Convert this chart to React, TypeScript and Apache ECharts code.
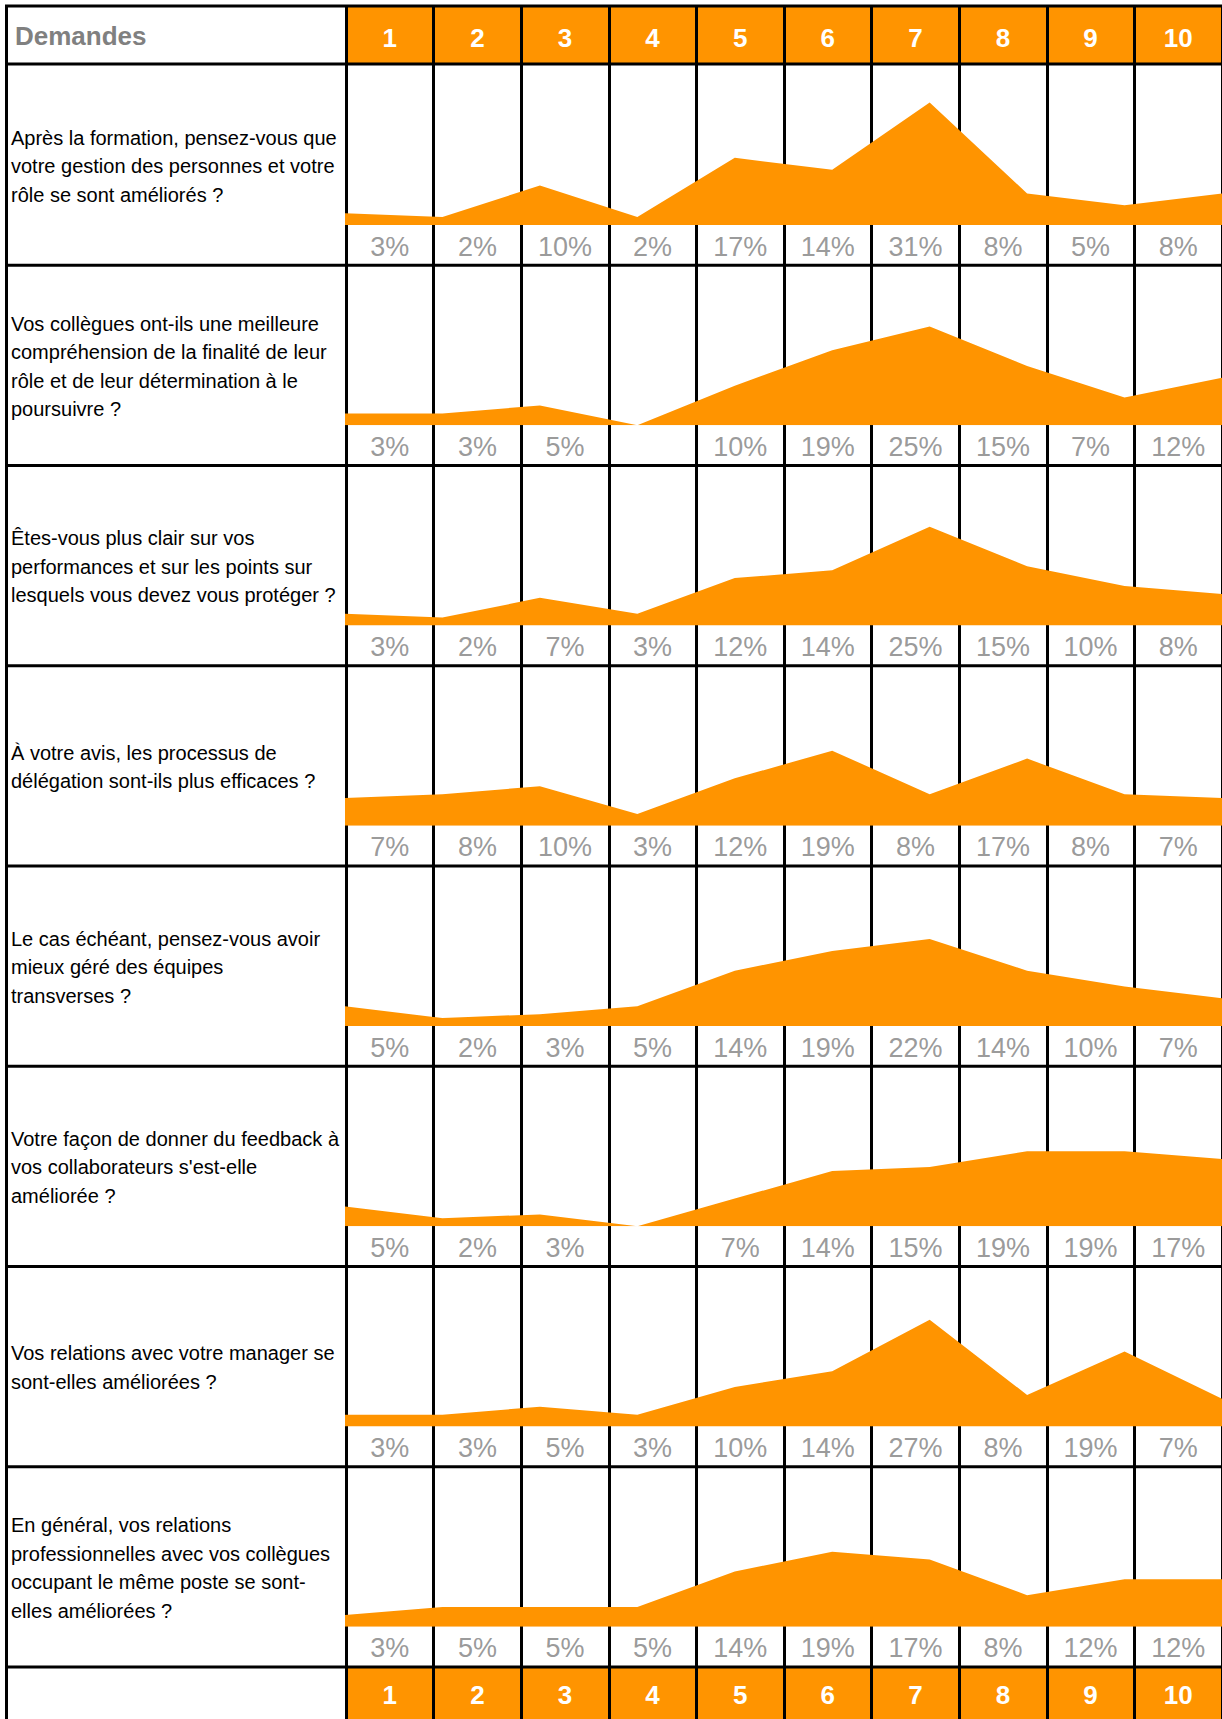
import React, { useEffect, useRef } from "react";
import * as echarts from "echarts";

const categories = ["1", "2", "3", "4", "5", "6", "7", "8", "9", "10"];

const headerTitle = "Demandes";

const questions = [
  "Après la formation, pensez-vous que\nvotre gestion des personnes et votre\nrôle se sont améliorés ?",
  "Vos collègues ont-ils une meilleure\ncompréhension de la finalité de leur\nrôle et de leur détermination à le\npoursuivre ?",
  "Êtes-vous plus clair sur vos\nperformances et sur les points sur\nlesquels vous devez vous protéger ?",
  "À votre avis, les processus de\ndélégation sont-ils plus efficaces ?",
  "Le cas échéant, pensez-vous avoir\nmieux géré des équipes\ntransverses ?",
  "Votre façon de donner du feedback à\nvos collaborateurs s'est-elle\naméliorée ?",
  "Vos relations avec votre manager se\nsont-elles améliorées ?",
  "En général, vos relations\nprofessionnelles avec vos collègues\noccupant le même poste se sont-\nelles améliorées ?",
];

const q1 = [3, 2, 10, 2, 17, 14, 31, 8, 5, 8];
const q2 = [3, 3, 5, 0, 10, 19, 25, 15, 7, 12];
const q3 = [3, 2, 7, 3, 12, 14, 25, 15, 10, 8];
const q4 = [7, 8, 10, 3, 12, 19, 8, 17, 8, 7];
const q5 = [5, 2, 3, 5, 14, 19, 22, 14, 10, 7];
const q6 = [5, 2, 3, 0, 7, 14, 15, 19, 19, 17];
const q7 = [3, 3, 5, 3, 10, 14, 27, 8, 19, 7];
const q8 = [3, 5, 5, 5, 14, 19, 17, 8, 12, 12];
const rows = [q1, q2, q3, q4, q5, q6, q7, q8];

const ORANGE = "#ff9400";
const FONT = "'Liberation Sans', Arial, sans-serif";
const HEADER_TOP = 6;
const HEADER_BOTTOM = 64;
const ROW_H = 200.25;
const BASE_OFF = 161;
const TABLE_LEFT = 346;
const COL_SPAN = 880;

function rowTop(r: number) {
  return HEADER_BOTTOM + ROW_H * r;
}

function buildOption() {
  const grid: any[] = [];
  const xAxis: any[] = [];
  const yAxis: any[] = [];
  const series: any[] = [];

  const hiddenCat = (gi: number, boundaryGap: boolean, extra: any = {}) => ({
    type: "category",
    gridIndex: gi,
    data: categories,
    boundaryGap,
    axisLine: { show: false },
    axisTick: { show: false },
    axisLabel: { show: false },
    splitLine: { show: false },
    ...extra,
  });
  const hiddenVal = (gi: number, max: number) => ({
    type: "value",
    gridIndex: gi,
    min: 0,
    max,
    show: false,
    splitLine: { show: false },
  });

  // 0: frame grid for vertical column lines
  grid.push({ left: TABLE_LEFT, top: HEADER_TOP, width: COL_SPAN, height: 1760 });
  xAxis.push(
    hiddenCat(0, true, {
      z: 1,
      splitLine: { show: true, interval: 0, lineStyle: { color: "#000", width: 3 } },
    })
  );
  yAxis.push(hiddenVal(0, 1));

  // 1: header, 2: footer
  const bandTops = [HEADER_TOP, rowTop(8) + 2];
  bandTops.forEach((t, k) => {
    const gi = grid.length;
    grid.push({ left: TABLE_LEFT, top: t, width: COL_SPAN, height: 58 });
    xAxis.push(hiddenCat(gi, true));
    yAxis.push(hiddenVal(gi, 1));
    series.push({
      type: "bar",
      xAxisIndex: gi,
      yAxisIndex: gi,
      data: categories.map(() => 1),
      barWidth: "100%",
      barCategoryGap: "0%",
      itemStyle: { color: ORANGE },
      z: 0,
      silent: true,
      label: {
        show: true,
        position: "inside",
        formatter: "{b}",
        color: "#fff",
        fontWeight: "bold",
        fontSize: 26,
        fontFamily: FONT,
        offset: [0, k === 0 ? 3 : 1],
      },
    });
  });

  rows.forEach((vals, r) => {
    const top = rowTop(r);
    // area chart
    const gi = grid.length;
    grid.push({ left: 345, top: top + 3, width: 877, height: BASE_OFF - 3 });
    xAxis.push(hiddenCat(gi, false));
    yAxis.push(hiddenVal(gi, 40));
    series.push({
      type: "line",
      xAxisIndex: gi,
      yAxisIndex: gi,
      data: vals,
      symbol: "none",
      lineStyle: { width: 0, color: ORANGE },
      areaStyle: { color: ORANGE, opacity: 1 },
      z: 2,
      silent: true,
    });
    // label band
    const gl = grid.length;
    grid.push({ left: TABLE_LEFT, top: top + BASE_OFF, width: COL_SPAN, height: 39 });
    xAxis.push(hiddenCat(gl, true));
    yAxis.push(hiddenVal(gl, 1));
    series.push({
      type: "scatter",
      xAxisIndex: gl,
      yAxisIndex: gl,
      data: vals.map((v, i) => [i, 0.5, v]),
      symbol: "circle",
      symbolSize: 1,
      itemStyle: { color: "rgba(0,0,0,0)" },
      z: 3,
      silent: true,
      label: {
        show: true,
        position: "inside",
        formatter: (p: any) => (p.value[2] ? p.value[2] + "%" : ""),
        color: "#808080",
        fontSize: 27,
        fontFamily: FONT,
        offset: [0, 2],
      },
    });
  });

  const graphics: any[] = [];
  // horizontal lines
  const hLines = [HEADER_TOP, HEADER_BOTTOM];
  for (let r = 1; r <= 8; r++) hLines.push(rowTop(r) + 1);
  hLines.forEach((y) => {
    graphics.push({
      type: "line",
      z: 10,
      silent: true,
      shape: { x1: 5, y1: y, x2: 1222, y2: y },
      style: { stroke: "#000", lineWidth: 3 },
    });
  });
  graphics.push({
    type: "line",
    z: 10,
    silent: true,
    shape: { x1: 6.5, y1: HEADER_TOP, x2: 6.5, y2: 1719 },
    style: { stroke: "#000", lineWidth: 3 },
  });
  graphics.push({
    type: "text",
    z: 10,
    x: 15,
    y: 36,
    style: {
      text: headerTitle,
      fill: "#808080",
      font: `bold 26px ${FONT}`,
      textVerticalAlign: "middle",
    },
  });
  questions.forEach((q, r) => {
    graphics.push({
      type: "text",
      z: 10,
      x: 11,
      y: rowTop(r) + 102,
      style: {
        text: q,
        fill: "#000",
        fontSize: 20,
        fontFamily: FONT,
        lineHeight: 28.5,
        textVerticalAlign: "middle",
      },
    });
  });

  return {
    animation: false,
    backgroundColor: "#fff",
    grid,
    xAxis,
    yAxis,
    series,
    graphic: graphics,
  };
}

export default function App() {
  const ref = useRef<HTMLDivElement>(null);
  useEffect(() => {
    const chart = echarts.init(ref.current!, null, { renderer: "svg" });
    chart.setOption(buildOption());
    return () => chart.dispose();
  }, []);
  return (
    <div
      ref={ref}
      style={{ position: "absolute", left: 0, top: 0, width: 1222, height: 1719 }}
    />
  );
}
